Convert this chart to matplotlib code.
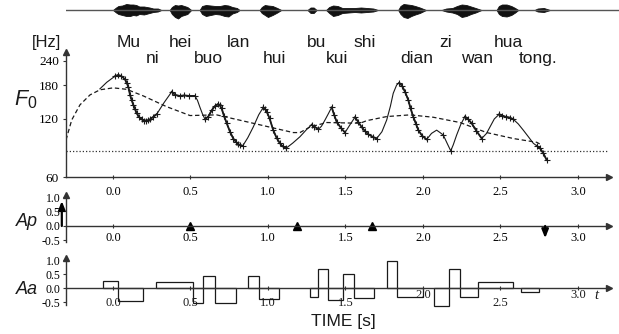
import numpy as np
import matplotlib
matplotlib.use("Agg")
import matplotlib.pyplot as plt
from matplotlib.transforms import blended_transform_factory

# ---------------- data ----------------
# waveform envelope (arbitrary units)
wave_t = [-0.30, 0.0, 0.02, 0.035, 0.06, 0.086, 0.11, 0.13, 0.15, 0.17, 0.20, 0.236, 0.26, 0.29, 0.312,
          0.366, 0.38, 0.40, 0.42, 0.44, 0.46, 0.48, 0.505,
          0.559, 0.575, 0.60, 0.63, 0.66, 0.69, 0.72, 0.745, 0.77, 0.80, 0.817,
          0.946, 0.96, 0.98, 1.0, 1.03, 1.06, 1.086,
          1.255, 1.275, 1.295, 1.314,
          1.375, 1.395, 1.42, 1.45, 1.48, 1.52, 1.56, 1.60, 1.64, 1.68, 1.71,
          1.84, 1.855, 1.875, 1.90, 1.925, 1.95, 1.98, 2.02,
          2.12, 2.15, 2.19, 2.22, 2.25, 2.28, 2.31, 2.34, 2.378,
          2.475, 2.49, 2.51, 2.54, 2.57, 2.595, 2.615,
          2.72, 2.74, 2.78, 2.82, 3.27]
wave_up = [0, 0, 2.5, 4, 4.5, 6, 5.5, 5.5, 5, 3.5, 3.5, 2.5, 1.5, 1.5, 0,
           0, 3, 5, 4.5, 5, 4, 3, 0,
           0, 4, 5, 4.5, 4, 4, 5, 4.5, 3, 2, 0,
           0, 3, 5, 4.5, 4, 2, 0,
           0, 2.5, 2.5, 0,
           0, 3, 4.5, 4, 2, 2, 2, 2.5, 2, 1.5, 0,
           0, 4, 6, 5.5, 5, 4, 2.5, 0,
           0, 1.5, 2, 4, 5.5, 5, 3.5, 2, 0,
           0, 4, 5.5, 5.5, 4, 2, 0,
           0, 1.5, 2, 0, 0]
wave_dn = [0, 0, -2.5, -4, -5, -6, -6, -5, -5.5, -4, -4.5, -3, -2, -1.5, 0,
           0, -4, -7, -8.5, -6, -5, -4, 0,
           0, -4, -6, -5, -4, -4.5, -6, -6.5, -3.5, -2, 0,
           0, -3, -5, -7, -5, -2.5, 0,
           0, -3, -3, 0,
           0, -3, -6, -5, -3, -2.5, -2, -2.5, -2, -1.5, 0,
           0, -4, -7, -8, -6, -4.5, -3, 0,
           0, -1.5, -2.5, -4, -7, -6, -4, -2.5, 0,
           0, -4, -6, -6.5, -5, -2.5, 0,
           0, -1.5, -2, 0, 0]

# F0 contour (s, Hz)
f0_t = [-0.084, -0.04, 0.013, 0.034, 0.055, 0.077, 0.09, 0.099, 0.11, 0.12, 0.131, 0.142, 0.153, 0.168,
        0.185, 0.2, 0.211, 0.225, 0.239, 0.26, 0.282,
        0.33, 0.379, 0.40, 0.43, 0.46, 0.49, 0.529,
        0.545, 0.561, 0.578, 0.594, 0.615, 0.637, 0.658, 0.679, 0.69, 0.701, 0.717, 0.734, 0.755,
        0.776, 0.792, 0.808, 0.822, 0.837,
        0.87, 0.905, 0.94, 0.97, 0.981, 0.992, 1.01, 1.034, 1.055, 1.077, 1.095, 1.116,
        1.16, 1.206, 1.25, 1.282, 1.30, 1.325,
        1.345, 1.368, 1.39, 1.411, 1.427, 1.443, 1.47, 1.497, 1.529, 1.561, 1.582, 1.604, 1.625,
        1.647, 1.675, 1.701,
        1.735, 1.766, 1.79, 1.808, 1.83, 1.847, 1.865, 1.884, 1.905, 1.92, 1.937, 1.955, 1.97,
        1.995, 2.024, 2.055, 2.088, 2.11, 2.131, 2.155, 2.179, 2.195, 2.217, 2.245, 2.271, 2.29,
        2.314, 2.345, 2.379, 2.41, 2.432, 2.46, 2.492, 2.51, 2.535, 2.56, 2.583,
        2.615, 2.647, 2.68, 2.712, 2.735, 2.755, 2.775, 2.798]
f0_hz = [172, 186, 200, 203, 200, 193, 184, 176, 160, 151, 142, 135, 128.5, 123,
         119.5, 117.5, 117, 118, 119.5, 123, 127,
         146, 166, 160, 158, 159, 158, 158,
         150, 138, 127, 119.5, 123.5, 133, 140, 143.6, 141, 136, 124, 114, 103,
         95, 91.5, 89, 87.5, 87,
         96, 109, 126, 138, 135, 131, 121, 105, 96, 89.7, 86.5, 84.5,
         90, 97, 106, 112, 109.5, 106,
         110, 118.6, 128, 138, 126, 116, 108, 102, 112, 122.5, 116, 109, 104,
         100, 97, 95,
         103, 118.6, 140, 163, 180, 185, 178, 166, 150.6, 136, 123.5, 113, 105,
         98, 94, 101, 105, 102, 99, 90, 82, 88, 99, 113, 123.5, 120,
         114, 104, 95, 101, 109, 120, 127, 125, 123, 122, 119.5,
         113, 105, 97, 89.7, 87, 84.5, 80, 73.5]

# time ranges with observed (+) F0 points
voiced = [(0.0, 0.29), (0.37, 0.535), (0.59, 0.84), (0.965, 1.12), (1.28, 1.33),
          (1.405, 1.50), (1.555, 1.705), (1.845, 2.03), (2.125, 2.135), (2.17, 2.19),
          (2.265, 2.385), (2.49, 2.59), (2.73, 2.80)]

# phrase component + Fb (dashed)
ph_t = [-0.303, -0.266, -0.213, -0.148, -0.084, 0.002, 0.088, 0.196, 0.346, 0.497, 0.669, 0.884,
        1.163, 1.206, 1.271, 1.379, 1.594, 1.637, 1.766, 1.916, 2.066, 2.239, 2.411, 2.583, 2.734, 2.766]
ph_hz = [93.4, 118.6, 142, 160, 170, 174, 171, 158, 139, 125, 126, 115,
         102, 102, 109, 115, 114, 117.6, 123.5, 126, 122.5, 115, 102, 95, 90.8, 87.9]
fb_hz = 82

# syllables
syl_top = ["Mu", "hei", "lan", "bu", "shi", "zi", "hua"]
syl_top_t = [0.10, 0.432, 0.808, 1.314, 1.626, 2.146, 2.55]
syl_bot = ["ni", "buo", "hui", "kui", "dian", "wan", "tong."]
syl_bot_t = [0.256, 0.615, 1.039, 1.443, 1.959, 2.346, 2.744]

# phrase commands
ap_t = [-0.33, 0.50, 1.19, 1.673, 2.788]
ap_v = [0.86, 0.14, 0.14, 0.14, -0.42]

# accent commands
aa_on = [-0.063, 0.034, 0.275, 0.518, 0.583, 0.658, 0.873, 0.944, 1.271, 1.325, 1.389, 1.486,
         1.555, 1.766, 1.830, 2.073, 2.170, 2.239, 2.353, 2.630]
aa_off = [0.034, 0.192, 0.518, 0.583, 0.658, 0.794, 0.944, 1.073, 1.325, 1.389, 1.486, 1.555,
          1.684, 1.830, 2.002, 2.170, 2.239, 2.353, 2.579, 2.750]
aa_v = [0.27, -0.44, 0.24, -0.54, 0.44, -0.54, 0.44, -0.38, -0.30, 0.68, -0.42, 0.50,
        -0.36, 0.98, -0.32, -0.62, 0.68, -0.30, 0.24, -0.12]

xticks = [0.0, 0.5, 1.0, 1.5, 2.0, 2.5, 3.0]
xlabels = ["0.0", "0.5", "1.0", "1.5", "2.0", "2.5", "3.0"]
f0_ticks = [60, 120, 180, 240]
amp_ticks = [-0.5, 0.0, 0.5, 1.0]
amp_labels = ["-0.5", "0.0", "0.5", "1.0"]

# ---------------- figure ----------------
W, H = 619, 334
fig = plt.figure(figsize=(W / 100, H / 100), dpi=100)
SERIF = "Liberation Serif"
SANS = "Liberation Sans"
INK = "#1a1a1a"
AX = "#333333"


def box(x0, y0, x1, y1):
    return [x0 / W, 1 - y1 / H, (x1 - x0) / W, (y1 - y0) / H]


T0, T1 = -0.303, 3.2

# waveform
ax_w = fig.add_axes(box(66, 0, 619, 20))
ax_w.set_xlim(T0, 3.265)
ax_w.set_ylim(-10, 10)
ax_w.axis("off")
ax_w.axhline(0, color="#555555", lw=1.0)
ax_w.fill_between(wave_t, wave_dn, wave_up, color="#111111", lw=0.6, edgecolor="#111111")


def style_common(ax, zero_axis=False, pad=3):
    for s in ("top", "right"):
        ax.spines[s].set_visible(False)
    if zero_axis:
        ax.spines["bottom"].set_position(("data", 0))
    for s in ("left", "bottom"):
        ax.spines[s].set_color(AX)
        ax.spines[s].set_linewidth(1.0)
    ax.set_xlim(T0, T1)
    ax.set_xticks(xticks)
    ax.set_xticklabels(xlabels, fontfamily=SERIF, fontsize=9)
    ax.tick_params(axis="x", direction="inout", length=3, width=0.8, color=AX, pad=pad)
    ax.patch.set_alpha(0)


def axis_arrows(ax, yzero_data=None):
    if yzero_data is None:
        ax.plot(1, 0, ">", color=AX, ms=5, transform=ax.transAxes, clip_on=False)
    else:
        ax.plot(1, yzero_data, ">", color=AX, ms=5, transform=ax.get_yaxis_transform(), clip_on=False)
    ax.plot(0, 1, "^", color=AX, ms=5, transform=ax.transAxes, clip_on=False)


# F0 panel
ax_f = fig.add_axes(box(66, 52, 609, 177))
ax_f.set_yscale("log", base=2)
style_common(ax_f, pad=5)
ax_f.set_ylim(60, 267)
ax_f.set_yticks(f0_ticks)
ax_f.set_yticklabels([str(v) for v in f0_ticks], fontfamily=SERIF, fontsize=9.5)
ax_f.yaxis.set_minor_locator(matplotlib.ticker.NullLocator())
ax_f.tick_params(axis="y", direction="out", length=2, width=0.8, color=AX, pad=3)
axis_arrows(ax_f)

ax_f.axhline(fb_hz, color=AX, lw=0.9, ls=(0, (1, 1.6)))
ax_f.plot(ph_t, ph_hz, color=INK, lw=0.9, ls=(0, (3.5, 2.2)))
ax_f.plot(f0_t, f0_hz, color=INK, lw=0.8)
ft = np.array(f0_t)
fh = np.array(f0_hz)
for a, b in voiced:
    m = (ft >= a) & (ft <= b)
    ax_f.plot(ft[m], fh[m], color=INK, lw=1.3, marker="+", ms=4, mew=0.8, ls="-")

tr = blended_transform_factory(ax_f.transData, fig.transFigure)
for s, t in zip(syl_top, syl_top_t):
    fig.text(t, 1 - 46.7 / H, s, transform=tr, ha="center", va="baseline",
             fontfamily=SANS, fontsize=12.5, color=INK)
for s, t in zip(syl_bot, syl_bot_t):
    fig.text(t, 1 - 63.3 / H, s, transform=tr, ha="center", va="baseline",
             fontfamily=SANS, fontsize=12.5, color=INK)
fig.text(46.5 / W, 1 - 46.5 / H, "[Hz]", ha="center", va="baseline", fontfamily=SANS, fontsize=12, color=INK)
fig.text(21 / W, 1 - 105 / H, "F", ha="center", va="baseline", fontfamily=SANS, style="italic",
         fontsize=15.5, color=INK)
fig.text(32 / W, 1 - 108 / H, "0", ha="center", va="baseline", fontfamily=SANS, fontsize=11.5, color=INK)

# Ap panel
ax_p = fig.add_axes(box(66, 195, 609, 242))
style_common(ax_p, zero_axis=True, pad=3)
ax_p.set_ylim(-0.552, 1.069)
ax_p.set_yticks(amp_ticks)
ax_p.set_yticklabels(amp_labels, fontfamily=SERIF, fontsize=8.5)
ax_p.tick_params(axis="y", direction="out", length=2, width=0.8, color=AX, pad=2)
axis_arrows(ax_p, 0)
for t, v in zip(ap_t, ap_v):
    if abs(v) > 0.3:
        ax_p.annotate("", xy=(t, v), xytext=(t, 0),
                      arrowprops=dict(arrowstyle="-|>,head_length=0.5,head_width=0.2",
                                      lw=1.6, color="k", shrinkA=0, shrinkB=0),
                      annotation_clip=False)
    else:
        ax_p.plot(t, 0, marker="^", ms=6, color="k", clip_on=False)
fig.text(27 / W, 1 - 226.5 / H, "Ap", ha="center", va="baseline", fontfamily=SANS, style="italic",
         fontsize=13, color=INK)

# Aa panel
ax_a = fig.add_axes(box(66, 258, 609, 305))
style_common(ax_a, zero_axis=True)
ax_a.set_ylim(-0.596, 1.082)
ax_a.set_yticks(amp_ticks)
ax_a.set_yticklabels(amp_labels, fontfamily=SERIF, fontsize=8.5)
ax_a.tick_params(axis="y", direction="out", length=2, width=0.8, color=AX, pad=2)
ax_a.tick_params(axis="x", labelbottom=False)
axis_arrows(ax_a, 0)
on = np.array(aa_on)
off = np.array(aa_off)
bars = ax_a.bar(on, aa_v, width=off - on, align="edge", fill=False, edgecolor=INK, lw=0.9)
for b in bars:
    b.set_clip_on(False)
raise_pts = {"2.0": 6, "3.0": 6}
for t, lab in zip(xticks, xlabels):
    ax_a.annotate(lab, xy=(t, 0), xytext=(0, -6.5 + raise_pts.get(lab, 0)), textcoords="offset points",
                  ha="center", va="top", fontfamily=SERIF, fontsize=9, color=INK,
                  annotation_clip=False)
fig.text(596 / W, 1 - 299 / H, "t", ha="center", va="baseline", fontfamily=SERIF, style="italic",
         fontsize=10.5, color=INK)
fig.text(27 / W, 1 - 294.5 / H, "Aa", ha="center", va="baseline", fontfamily=SANS, style="italic",
         fontsize=13, color=INK)
fig.text(343 / W, 1 - 326 / H, "TIME [s]", ha="center", va="baseline", fontfamily=SANS,
         fontsize=12.5, color=INK)

fig.savefig("out.png", dpi=100)
